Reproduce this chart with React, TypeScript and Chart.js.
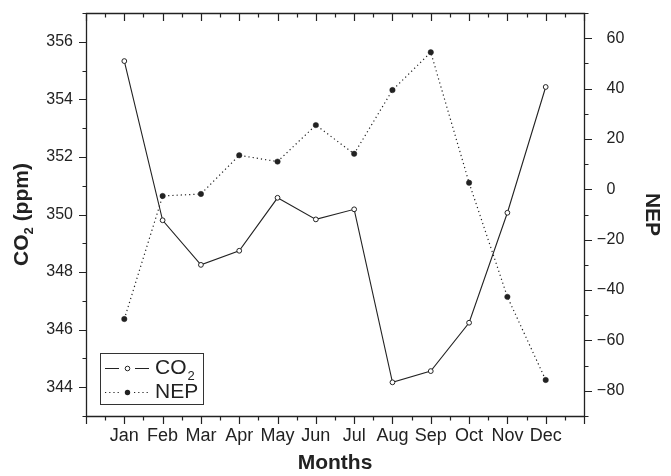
import React, { useEffect, useRef } from 'react';
import { Chart, registerables } from 'chart.js';

Chart.register(...registerables);

const MONTHS = ['Jan', 'Feb', 'Mar', 'Apr', 'May', 'Jun', 'Jul', 'Aug', 'Sep', 'Oct', 'Nov', 'Dec'];
const CO2 = [355.33, 349.8, 348.25, 348.74, 350.58, 349.83, 350.18, 344.17, 344.56, 346.24, 350.06, 354.43];
const NEP = [-51.5, -2.65, -1.85, 13.5, 11.0, 25.5, 14.1, 39.4, 54.4, 2.6, -42.7, -75.7];
const CO2_TICKS = [344, 346, 348, 350, 352, 354, 356];
const NEP_TICKS = [-80, -60, -40, -20, 0, 20, 40, 60];

const INK = '#222222';
const FAMILY = '"Liberation Sans", Arial, Helvetica, sans-serif';
const Y_TICK_SIZE = 16;
const X_TICK_SIZE = 18;
const TITLE_SIZE = 21;
const LEGEND_SIZE = 21;

const decorPlugin = {
  id: 'decor',
  afterDraw(chart: any) {
    const ctx = chart.ctx as CanvasRenderingContext2D;
    const ca = chart.chartArea;
    const xs = chart.scales.x;
    const ys = chart.scales.y;
    const y1 = chart.scales.y1;
    const L = Math.round(ca.left) + 0.5;
    const R = Math.round(ca.right) + 0.5;
    const T = Math.round(ca.top) + 0.5;
    const B = Math.round(ca.bottom) + 0.5;
    ctx.save();
    ctx.strokeStyle = INK;
    ctx.lineWidth = 1.3;
    ctx.setLineDash([]);
    ctx.beginPath();
    ctx.rect(L, T, R - L, B - T);
    ctx.stroke();

    ctx.lineWidth = 1.2;
    ctx.beginPath();
    // left axis ticks (outward)
    for (let v = 343; v <= 357; v += 1) {
      const py = Math.round(ys.getPixelForValue(v)) + 0.5;
      const len = v % 2 === 0 ? 7.5 : 4;
      ctx.moveTo(L, py);
      ctx.lineTo(L - len, py);
    }
    // right axis ticks (outward)
    for (let v = -90; v <= 70; v += 10) {
      const py = Math.round(y1.getPixelForValue(v)) + 0.5;
      const len = v % 20 === 0 ? 7.5 : 4;
      ctx.moveTo(R, py);
      ctx.lineTo(R + len, py);
    }
    // bottom (outward) and top (inward) ticks
    for (let k = -2; k <= 24; k += 1) {
      const v = k / 2;
      const px = Math.round(xs.getPixelForValue(v)) + 0.5;
      const len = k % 2 === 0 ? 7.5 : 4;
      ctx.moveTo(px, B);
      ctx.lineTo(px, B + len);
      ctx.moveTo(px, T);
      ctx.lineTo(px, T + len);
    }
    ctx.stroke();

    // right axis labels (digits aligned, minus sign hanging to the left)
    ctx.fillStyle = INK;
    ctx.font = `${Y_TICK_SIZE}px ${FAMILY}`;
    ctx.textBaseline = 'middle';
    const digitX = R + 22;
    NEP_TICKS.forEach((v) => {
      const py = y1.getPixelForValue(v);
      ctx.textAlign = 'left';
      ctx.fillText(String(Math.abs(v)), digitX, py);
      if (v < 0) {
        ctx.textAlign = 'right';
        ctx.fillText('\u2212', digitX - 0.5, py);
      }
    });

    // left axis title with subscript
    ctx.save();
    ctx.translate(22, (ca.top + ca.bottom) / 2);
    ctx.rotate(-Math.PI / 2);
    const big = `bold ${TITLE_SIZE}px ${FAMILY}`;
    const small = `bold ${Math.round(TITLE_SIZE * 0.6)}px ${FAMILY}`;
    ctx.font = big;
    const wCO = ctx.measureText('CO').width;
    const wRest = ctx.measureText(' (ppm)').width;
    ctx.font = small;
    const w2 = ctx.measureText('2').width;
    const total = wCO + w2 + wRest;
    let cx = -total / 2;
    ctx.textAlign = 'left';
    ctx.textBaseline = 'middle';
    ctx.font = big;
    ctx.fillText('CO', cx, 0);
    cx += wCO;
    ctx.font = small;
    ctx.fillText('2', cx, 7);
    cx += w2;
    ctx.font = big;
    ctx.fillText(' (ppm)', cx, 0);
    ctx.restore();

    // legend
    const bx = 100.5, by = 353.5, bw = 103, bh = 51;
    ctx.strokeStyle = '#333';
    ctx.lineWidth = 1;
    ctx.strokeRect(bx, by, bw, bh);
    const r1 = 368, r2 = 392;
    const mx = 127.5;
    ctx.strokeStyle = INK;
    ctx.lineWidth = 1;
    ctx.beginPath();
    ctx.moveTo(105, r1 + 0.5); ctx.lineTo(119, r1 + 0.5);
    ctx.moveTo(135, r1 + 0.5); ctx.lineTo(149, r1 + 0.5);
    ctx.stroke();
    ctx.beginPath();
    ctx.arc(mx, r1 + 0.5, 2.3, 0, Math.PI * 2);
    ctx.fillStyle = '#fff';
    ctx.fill();
    ctx.stroke();
    ctx.setLineDash([1.2, 3]);
    ctx.lineWidth = 1.2;
    ctx.beginPath();
    ctx.moveTo(105, r2 + 0.5); ctx.lineTo(121, r2 + 0.5);
    ctx.moveTo(134, r2 + 0.5); ctx.lineTo(150, r2 + 0.5);
    ctx.stroke();
    ctx.setLineDash([]);
    ctx.beginPath();
    ctx.arc(mx, r2 + 0.5, 2.7, 0, Math.PI * 2);
    ctx.fillStyle = INK;
    ctx.fill();

    ctx.fillStyle = INK;
    ctx.textAlign = 'left';
    ctx.textBaseline = 'middle';
    ctx.font = `${LEGEND_SIZE}px ${FAMILY}`;
    ctx.fillText('CO', 155, r1);
    const wl = ctx.measureText('CO').width;
    ctx.font = `${Math.round(LEGEND_SIZE * 0.6)}px ${FAMILY}`;
    ctx.fillText('2', 155 + wl + 1, r1 + 8.5);
    ctx.font = `${LEGEND_SIZE}px ${FAMILY}`;
    ctx.fillText('NEP', 155, r2 + 0.5);

    ctx.restore();
  },
};

const noPad = (s: any) => {
  s.paddingTop = 0;
  s.paddingBottom = 0;
  s.paddingLeft = 0;
  s.paddingRight = 0;
};

export default function App() {
  const ref = useRef<HTMLCanvasElement | null>(null);

  useEffect(() => {
    if (!ref.current) return;
    const hiddenGrid = {
      display: true,
      drawOnChartArea: false,
      drawTicks: true,
      tickLength: 7,
      tickColor: 'rgba(0,0,0,0)',
    };
    const chart = new Chart(ref.current, {
      type: 'line',
      data: {
        datasets: [
          {
            label: 'CO2',
            data: MONTHS.map((_, i) => ({ x: i, y: CO2[i] })),
            yAxisID: 'y',
            borderColor: INK,
            borderWidth: 1.1,
            pointRadius: 2.4,
            pointBackgroundColor: '#ffffff',
            pointBorderColor: INK,
            pointBorderWidth: 1,
            tension: 0,
          },
          {
            label: 'NEP',
            data: MONTHS.map((_, i) => ({ x: i, y: NEP[i] })),
            yAxisID: 'y1',
            borderColor: INK,
            borderWidth: 1.2,
            borderDash: [1.2, 3],
            pointRadius: 2.7,
            pointBackgroundColor: INK,
            pointBorderColor: INK,
            pointBorderWidth: 0.5,
            tension: 0,
          },
        ],
      },
      options: {
        responsive: false,
        animation: false,
        events: [],
        layout: { padding: { top: 13, left: 0, right: 0, bottom: 0 } },
        plugins: {
          legend: { display: false },
          tooltip: { enabled: false },
        },
        scales: {
          x: {
            type: 'linear',
            position: 'bottom',
            min: -1,
            max: 12,
            afterFit: (s: any) => {
              s.height = 60;
              noPad(s);
            },
            afterBuildTicks: (s: any) => {
              s.ticks = MONTHS.map((_, i) => ({ value: i }));
            },
            grid: hiddenGrid,
            border: { display: false },
            ticks: {
              autoSkip: false,
              maxRotation: 0,
              padding: 2,
              color: INK,
              font: { family: FAMILY, size: X_TICK_SIZE },
              callback: (v: any) => MONTHS[v as number] ?? '',
            },
            title: {
              display: true,
              text: 'Months',
              color: INK,
              font: { family: FAMILY, size: TITLE_SIZE, weight: 'bold' },
              padding: { top: 0, bottom: 0 },
            },
          },
          y: {
            type: 'linear',
            position: 'left',
            min: 343,
            max: 357,
            afterFit: (s: any) => {
              s.width = 86;
              noPad(s);
            },
            afterBuildTicks: (s: any) => {
              s.ticks = CO2_TICKS.map((v) => ({ value: v }));
            },
            grid: hiddenGrid,
            border: { display: false },
            ticks: {
              padding: 6,
              color: INK,
              font: { family: FAMILY, size: Y_TICK_SIZE },
              callback: (v: any) => String(v),
            },
            title: { display: false },
          },
          y1: {
            type: 'linear',
            position: 'right',
            min: -90,
            max: 70,
            afterFit: (s: any) => {
              s.width = 87;
              noPad(s);
            },
            afterBuildTicks: (s: any) => {
              s.ticks = NEP_TICKS.map((v) => ({ value: v }));
            },
            grid: { display: false },
            border: { display: false },
            ticks: { display: false },
            title: {
              display: true,
              text: 'NEP',
              color: INK,
              font: { family: FAMILY, size: TITLE_SIZE, weight: 'bold' },
              padding: { top: 7, bottom: 0 },
            },
          },
        },
      },
      plugins: [decorPlugin],
    });
    return () => chart.destroy();
  }, []);

  return (
    <div style={{ position: 'absolute', left: 0, top: 0, width: 671, height: 476, background: '#fff' }}>
      <canvas ref={ref} width={671} height={476} style={{ display: 'block', width: 671, height: 476 }} />
    </div>
  );
}
